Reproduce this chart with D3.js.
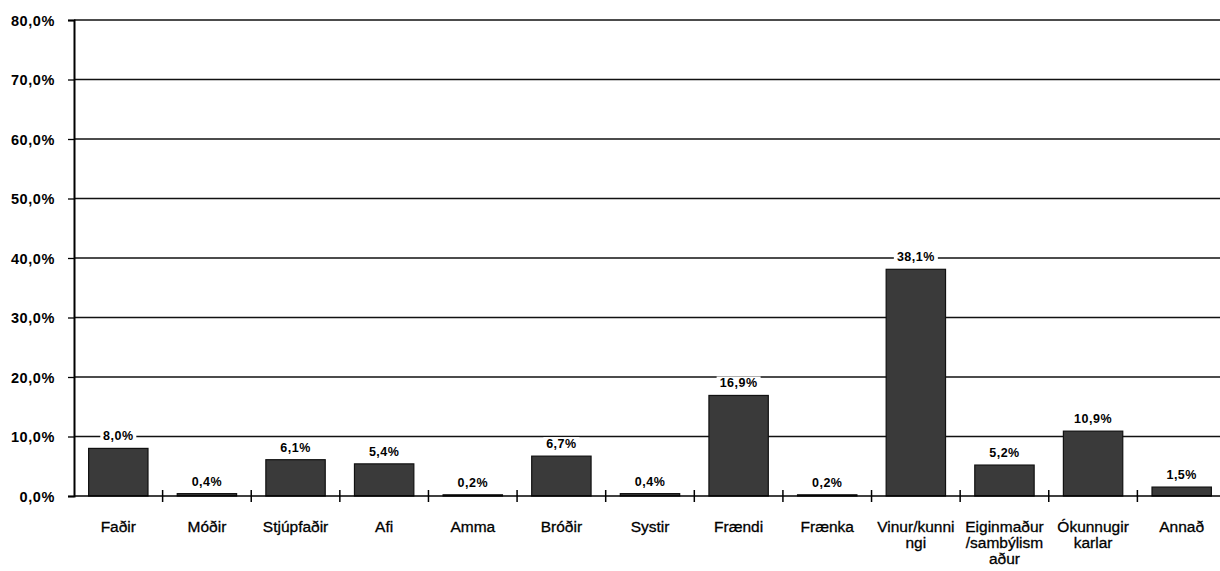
<!DOCTYPE html>
<html><head><meta charset="utf-8">
<script src="https://cdn.jsdelivr.net/npm/d3@7"></script>
<style>body{margin:0;background:#fff}svg{display:block}</style>
</head><body>
<svg id="c" width="1220" height="571"></svg>
<script>
const categories = [["Faðir"],["Móðir"],["Stjúpfaðir"],["Afi"],["Amma"],["Bróðir"],["Systir"],["Frændi"],["Frænka"],["Vinur/kunni","ngi"],["Eiginmaður","/sambýlism","aður"],["Ókunnugir","karlar"],["Annað"]];
const values = [8.0,0.4,6.1,5.4,0.2,6.7,0.4,16.9,0.2,38.1,5.2,10.9,1.5];
const valueLabels = ["8,0%","0,4%","6,1%","5,4%","0,2%","6,7%","0,4%","16,9%","0,2%","38,1%","5,2%","10,9%","1,5%"];
const yTicks = [0,10,20,30,40,50,60,70,80];

const svg = d3.select("#c");
const L = 74, R = 1226, T = 20, B = 496;
const x = d3.scaleBand().domain(d3.range(categories.length)).range([L, R]).paddingInner(0.33).paddingOuter(0.165);
const xb = d3.scaleBand().domain(d3.range(categories.length)).range([L, R]);
const y = d3.scaleLinear().domain([0, 80]).range([B, T]);
const font = "'Liberation Sans', Arial, sans-serif";

// gridlines
svg.append("g").selectAll("line").data(yTicks.slice(1)).join("line")
  .attr("x1", L).attr("x2", 1220).attr("y1", d => y(d)).attr("y2", d => y(d))
  .attr("stroke", "#111").attr("stroke-width", 1.3);

// y axis
const ya = svg.append("g").attr("transform", `translate(${L},0)`)
  .call(d3.axisLeft(y).tickValues(yTicks).tickSize(6).tickFormat(d => d3.format(".1f")(d).replace(".", ",") + "%"));
ya.select(".domain").attr("stroke", "#000").attr("stroke-width", 2);
ya.selectAll(".tick line").attr("stroke", "#000").attr("stroke-width", 1.3);
ya.selectAll("text").attr("font-family", font).attr("font-size", 14.5).attr("font-weight", "bold")
  .attr("letter-spacing", 0.6).attr("fill", "#000").attr("x", -19).attr("dy", "0.35em");

// bars
svg.append("g").selectAll("rect").data(values).join("rect")
  .attr("x", (d, i) => x(i)).attr("width", x.bandwidth())
  .attr("y", d => y(d)).attr("height", d => B - y(d))
  .attr("fill", "#3a3a3a").attr("stroke", "#111").attr("stroke-width", 1.2);

// x axis
svg.append("line").attr("x1", L).attr("x2", 1220).attr("y1", B).attr("y2", B).attr("stroke", "#000").attr("stroke-width", 1.5);
svg.append("g").selectAll("line").data(d3.range(1, categories.length)).join("line")
  .attr("x1", i => xb(i)).attr("x2", i => xb(i)).attr("y1", B - 6).attr("y2", B + 6)
  .attr("stroke", "#000").attr("stroke-width", 1.5);

// category labels
const cl = svg.append("g").selectAll("text").data(categories).join("text")
  .attr("font-family", font).attr("font-size", 15.5).attr("fill", "#000").attr("text-anchor", "middle")
  .attr("stroke", "#000").attr("stroke-width", 0.3)
  .attr("transform", (d, i) => `translate(${xb(i) + xb.bandwidth() / 2},${B + 36})`);
cl.selectAll("tspan").data(d => d).join("tspan").attr("x", 0).attr("dy", (d, j) => j === 0 ? 0 : 16).text(d => d);

// value labels
const vl = svg.append("g").selectAll("g").data(values).join("g")
  .attr("transform", (d, i) => `translate(${xb(i) + xb.bandwidth() / 2},${y(d) - 8})`);
vl.append("rect").attr("x", (d, i) => -valueLabels[i].length * 4 - 2).attr("y", -11)
  .attr("width", (d, i) => valueLabels[i].length * 8 + 4).attr("height", 13).attr("fill", "#fff");
vl.append("text").attr("font-family", font).attr("font-size", 12.5).attr("font-weight", "bold")
  .attr("letter-spacing", 0.5).attr("text-anchor", "middle").attr("fill", "#000").text((d, i) => valueLabels[i]);
</script>
</body></html>
